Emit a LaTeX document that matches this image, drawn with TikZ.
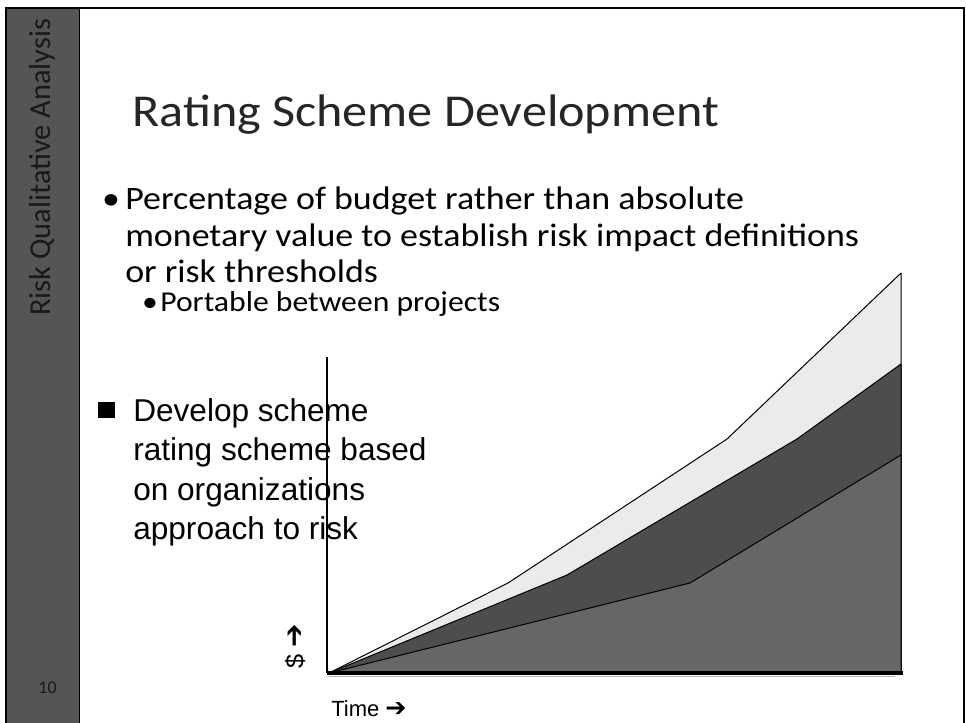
\documentclass[tikz,border=0pt]{standalone}
\usepackage{fontspec}
\setmainfont{Carlito}
\newfontfamily\widefont[FakeStretch=1.1]{Carlito}
\newfontfamily\tahomafont{Liberation Sans}
\newfontfamily\symfont{DejaVu Sans}
\definecolor{sidebargray}{HTML}{555555}
\definecolor{lightband}{HTML}{EBEBEB}
\definecolor{darkband}{HTML}{4D4D4D}
\definecolor{midband}{HTML}{666666}

\begin{document}
\begin{tikzpicture}[x=0.75pt,y=-0.75pt,
    band/.style={draw=black,line width=0.75pt,line join=round},
    titletext/.style={anchor=base west,inner sep=0pt,text=black!85,font=\widefont\fontsize{34.2}{41}\selectfont},
    bullettext/.style={anchor=base west,inner sep=0pt,font=\widefont\fontsize{24.5}{29}\selectfont},
    subtext/.style={anchor=base west,inner sep=0pt,font=\widefont\fontsize{21.6}{26}\selectfont},
    blocktext/.style={anchor=base west,inner sep=0pt,font=\tahomafont\fontsize{23.7}{29}\selectfont},
    dot/.style={anchor=base,inner sep=0pt}]
  \useasboundingbox (0,0) rectangle (966,723);
  \fill[white] (0,0) rectangle (966,723);
  \fill[sidebargray] (6,8) rectangle (79,730);
  \draw[line width=0.75pt] (79,8) -- (79,730);
  \draw[line width=1.8pt] (6,730) -- (6,8) -- (964,8) -- (964,730);
  \node[rotate=90,anchor=base west,inner sep=0pt,text=black!90,font=\fontsize{22.8}{27}\selectfont] (side) at (50,316) {Risk Qualitative Analysis};
  \node[inner sep=0pt,text=black!90,font=\fontsize{13.5}{16}\selectfont] (page) at (47.5,688) {10};

  \node[titletext] (title) at (132,127) {Rating Scheme Development};
  \node[dot,font=\widefont\fontsize{24.5}{29}\selectfont] (d1) at (111,210) {•};
  \node[bullettext] (b1) at (125,210) {Percentage of budget rather than absolute};
  \node[bullettext] (b2) at (125,247) {monetary value to establish risk impact definitions};
  \node[bullettext] (b3) at (125,283) {or risk thresholds};
  \node[dot,font=\widefont\fontsize{21.6}{26}\selectfont] (d2) at (150,311) {•};
  \node[subtext] (s1) at (160,311) {Portable between projects};

  \node[fill=black,inner sep=0pt,minimum size=12.5pt] (sq) at (106.5,410) {};
  \node[blocktext] (l1) at (133,421) {Develop scheme};
  \node[blocktext] (l2) at (133,460) {rating scheme based};
  \node[blocktext] (l3) at (133,500) {on organizations};
  \node[blocktext] (l4) at (133,539) {approach to risk};

  \coordinate (O) at (327,673);
  \coordinate (ytop) at (327,357);
  \coordinate (xend) at (903,673);
  \filldraw[band,fill=lightband] (329,673) -- (508,583) -- (727,439) -- (901,273) -- (901,673) -- cycle;
  \filldraw[band,fill=darkband] (329,673) -- (567,575) -- (797,439) -- (901,364) -- (901,673) -- cycle;
  \filldraw[band,fill=midband] (329,673) -- (690,583) -- (901,455) -- (901,673) -- cycle;
  \draw[line width=1.5pt] (O) -- (ytop);
  \draw[line width=2.3pt] (O) -- (xend);
  \draw[black!30,line width=0.75pt] (329,676) -- (895,676);

  \node[rotate=90,inner sep=0pt,font=\tahomafont\fontsize{19}{22}\selectfont] (ylab) at (295,646) {\$ {\symfont\fontsize{21}{22}\selectfont ➔}};
  \node[anchor=base west,inner sep=0pt,font=\tahomafont\fontsize{16.5}{20}\selectfont] (xlab) at (331,716) {Time {\symfont\fontsize{19}{20}\selectfont ➔}};
\end{tikzpicture}
\end{document}
